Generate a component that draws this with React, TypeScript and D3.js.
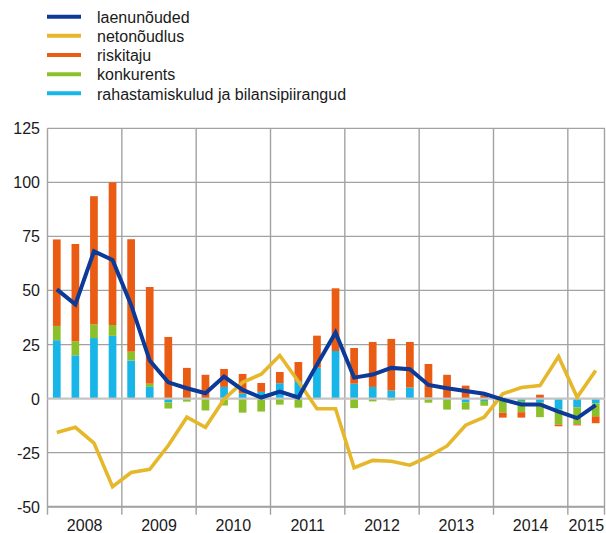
import React from "react";
import * as d3 from "d3";

const years = ["2008", "2009", "2010", "2011", "2012", "2013", "2014", "2015"];
const quarters: string[] = years.flatMap((y) => (y === "2015" ? ["Q1", "Q2"] : ["Q1", "Q2", "Q3", "Q4"]).map((q) => `${y} ${q}`));

const rahastamiskulud = [
  27, 20, 28, 29,
  17.6, 5.4, -1.8, 0,
  0, 5.4, 2.3, 3.1,
  7.1, 8, 14.3, 22,
  6.9, 5.4, 3.7, 5.1,
  0.5, -0.6, -1.7, -1.1,
  -0.5, -1.1, -1.8, -5.1,
  -4.0, -2.2,
];
const konkurents = [
  6.6, 6.5, 6.3, 5,
  4.1, 1.5, -2.8, -1.4,
  -5.5, -3.2, -6.5, -6,
  -2.8, -4.2, -0.3, -0.3,
  -4.4, -1.3, -0.8, -0.3,
  -1.9, -4.5, -3.4, -2.2,
  -6, -5.2, -6.8, -6.9,
  -7.9, -6,
];
const riskitaju = [
  40, 45, 59.3, 66,
  52, 44.7, 28.5, 14.2,
  11, 8.3, 9.1, 4.1,
  5.2, 8.9, 14.8, 29,
  16.5, 20.8, 23.9, 21.1,
  15.5, 11, 6, 1.5,
  -2.3, -2.5, 1.8, -0.8,
  -0.5, -3.2,
];
const laenunouded = [
  50.5, 43.6, 68.1, 64.1,
  43.3, 17.6, 7.5, 4.8,
  2.5, 10.2, 4.0, 0.5,
  3.2, 0.5, 15.6, 30.5,
  9.7, 11.1, 14.2, 13.6,
  6.3, 4.8, 3.5, 2.2,
  -0.5, -2.7, -2.7, -6,
  -9, -3,
];
const netonoudlus = [
  -15.7, -13.3, -20.6, -40.7,
  -34.2, -32.7, -21.7, -8.6,
  -13.3, -0.3, 7.5, 11.3,
  19.9, 7.9, -4.7, -4.7,
  -32, -28.6, -29, -30.8,
  -26.8, -21.9, -12.3, -8.6,
  2.2, 5.1, 6.0, 19.5,
  0.6, 13,
];
const yTicks = [-50, -25, 0, 25, 50, 75, 100, 125];

const C = {
  laen: "#0b3a98",
  neto: "#e6b72b",
  risk: "#ea5b13",
  konk: "#8cc02b",
  raha: "#17b5e8",
  grid: "#a2a2a2",
  zero: "#c4c4c4",
};

const legendItems = [
  { label: "laenunõuded", color: C.laen },
  { label: "netonõudlus", color: C.neto },
  { label: "riskitaju", color: C.risk },
  { label: "konkurents", color: C.konk },
  { label: "rahastamiskulud ja bilansipiirangud", color: C.raha },
];

export default function App() {
  const W = 606, H = 533;
  const left = 47.5, right = 605, top = 128.3, bottom = 506.7;
  const font = "'Liberation Sans', Arial, sans-serif";

  const x = d3.scaleBand<string>().domain(quarters).range([left, right]).paddingInner(0.585).paddingOuter(0.2925);
  const y = d3.scaleLinear().domain([-50, 125]).range([bottom, top]);
  const step = x.step();
  const cx = (i: number) => (x(quarters[i]) as number) + x.bandwidth() / 2;

  const rows = quarters.map((q, i) => ({ q, raha: rahastamiskulud[i], konk: konkurents[i], risk: riskitaju[i] }));
  const keys = ["raha", "konk", "risk"];
  const series = d3.stack<any>().keys(keys).offset(d3.stackOffsetDiverging)(rows);

  const line = d3.line<number>().x((_, i) => cx(i)).y((d) => y(d));

  // year boundaries
  const yearStart: number[] = [];
  let k = 0;
  years.forEach((yr) => {
    yearStart.push(k);
    k += yr === "2015" ? 2 : 4;
  });
  const boundaryX = (idx: number) => left + idx * step;

  return (
    <svg width={W} height={H} style={{ position: "absolute", left: 0, top: 0 }} fontFamily={font}>
      <rect width={W} height={H} fill="#fff" />
      {/* legend */}
      {legendItems.map((it, i) => {
        const cy = 16.7 + i * 19.15;
        return (
          <g key={it.label}>
            <line x1={47} x2={81} y1={cy} y2={cy} stroke={it.color} strokeWidth={4} />
            <text x={97} y={cy + 6.3} fontSize={16} fill="#1a1a1a">{it.label}</text>
          </g>
        );
      })}
      {/* horizontal gridlines */}
      {yTicks.filter((t) => t !== 0).map((t) => (
        <line key={t} x1={left} x2={right} y1={y(t)} y2={y(t)} stroke={C.grid} strokeWidth={1.3} />
      ))}
      {/* vertical year lines + ticks */}
      {yearStart.map((s, i) => (
        <line key={i} x1={boundaryX(s)} x2={boundaryX(s)} y1={top} y2={bottom + 8} stroke={C.grid} strokeWidth={1.4} />
      ))}
      <line x1={right - 0.5} x2={right - 0.5} y1={top} y2={bottom + 8} stroke={C.grid} strokeWidth={1.4} />
      <line x1={left} x2={right} y1={bottom} y2={bottom} stroke={C.grid} strokeWidth={2} />
      {/* bars */}
      {series.map((s) => (
        <g key={s.key} fill={s.key === "raha" ? C.raha : s.key === "konk" ? C.konk : C.risk}>
          {s.map((d, i) => {
            const y0 = y(d[0]), y1 = y(d[1]);
            return (
              <rect key={i} x={x(quarters[i])} width={x.bandwidth()} y={Math.min(y0, y1)} height={Math.abs(y1 - y0)} />
            );
          })}
        </g>
      ))}
      {/* zero line */}
      <line x1={left} x2={right} y1={y(0)} y2={y(0)} stroke={C.zero} strokeWidth={2.4} />
      {/* lines */}
      <path d={line(netonoudlus) as string} fill="none" stroke={C.neto} strokeWidth={3.6} />
      <path d={line(laenunouded) as string} fill="none" stroke={C.laen} strokeWidth={4} />
      {/* y labels */}
      {yTicks.map((t) => (
        <text key={t} x={40} y={y(t) + 6} textAnchor="end" fontSize={16} fill="#1a1a1a">{t}</text>
      ))}
      {/* x labels */}
      {years.map((yr, i) => {
        const n = yr === "2015" ? 2 : 4;
        const mid = boundaryX(yearStart[i]) + (n * step) / 2;
        return (
          <text key={yr} x={mid} y={530.5} textAnchor="middle" fontSize={16} fill="#1a1a1a">{yr}</text>
        );
      })}
    </svg>
  );
}
